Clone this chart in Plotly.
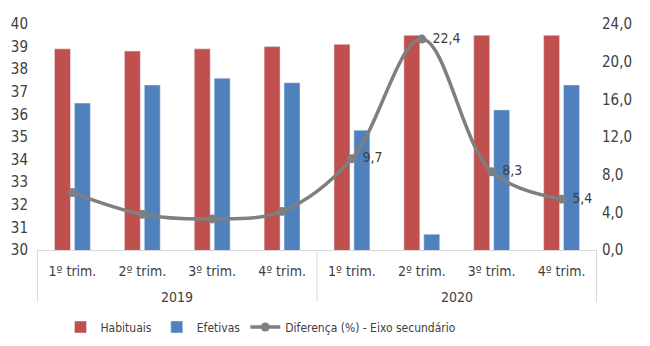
import plotly.graph_objects as go

years = ["2019", "2020"]
quarters = ["1º trim.", "2º trim.", "3º trim.", "4º trim."]
habituais = [38.9, 38.8, 38.9, 39.0, 39.1, 39.5, 39.5, 39.5]
efetivas = [36.5, 37.3, 37.6, 37.4, 35.3, 30.7, 36.2, 37.3]
diferenca = [6.1, 3.8, 3.3, 4.1, 9.7, 22.4, 8.3, 5.4]
show_label = [False] * 4 + [True] * 4

FONT = "Liberation Sans Narrow, DejaVu Sans Condensed, Liberation Sans, sans-serif"
TXT = "#404040"
BOX = "#d9d9d9"

cats = [f"{q} {y}" for y in years for q in quarters]
ticktext = [q for y in years for q in quarters]
labels = ["\u00a0" + f"{v:.1f}".replace(".", ",") if s else "" for v, s in zip(diferenca, show_label)]

fig = go.Figure()
fig.add_trace(go.Bar(x=cats, y=habituais, name="Habituais", marker_color="#c0504d"))
fig.add_trace(go.Bar(x=cats, y=efetivas, name="Efetivas", marker_color="#4f81bd"))
fig.add_trace(go.Scatter(
    x=cats, y=diferenca, name="Diferença (%) - Eixo secundário", yaxis="y2",
    mode="lines+markers+text", text=labels, textposition="middle right",
    textfont=dict(size=14, color=TXT, family=FONT),
    line=dict(color="#7f7f7f", width=3.5, shape="spline", smoothing=1.0),
    marker=dict(size=9, color="#7f7f7f"),
))

# category box and year labels (offsets in px converted to paper units)
PLOT_H = 346 - 16 - 95
n = len(quarters)
for xb in [-0.5, n - 0.5, 2 * n - 0.5]:
    fig.add_shape(type="line", xref="x", yref="paper", x0=xb, x1=xb, y0=0, y1=-54 / PLOT_H,
                  line=dict(color=BOX, width=1))
for i, y in enumerate(years):
    fig.add_annotation(x=i * n + (n - 1) / 2, xref="x", y=-49 / PLOT_H, yref="paper",
                       text=y, showarrow=False, yanchor="middle",
                       font=dict(size=14, color=TXT, family=FONT))

fig.update_layout(
    width=650, height=346,
    margin=dict(l=29, r=61, t=16, b=95),
    paper_bgcolor="white", plot_bgcolor="white",
    separators=",.",
    barmode="group", bargap=0.43, bargroupgap=0.2,
    font=dict(family=FONT, size=14, color=TXT),
    showlegend=True,
    legend=dict(orientation="h", x=0.40, xanchor="center", y=-65 / PLOT_H, yanchor="top",
                font=dict(size=12, color=TXT), traceorder="normal"),
    xaxis=dict(type="category", tickvals=cats, ticktext=ticktext, automargin=False,
               showline=True, linecolor=BOX, linewidth=1, ticks="", ticklabelstandoff=8,
               tickfont=dict(size=14, color=TXT)),
    yaxis=dict(range=[30, 40], dtick=1, showgrid=False, zeroline=False, automargin=False,
               tickfont=dict(size=15, color=TXT), ticklabelstandoff=8),
    yaxis2=dict(range=[0, 24], dtick=4, tickformat=".1f", overlaying="y", side="right",
                automargin=False, showgrid=False, zeroline=False,
                tickfont=dict(size=15, color=TXT), ticklabelstandoff=4),
)

fig.write_html("out.html")
